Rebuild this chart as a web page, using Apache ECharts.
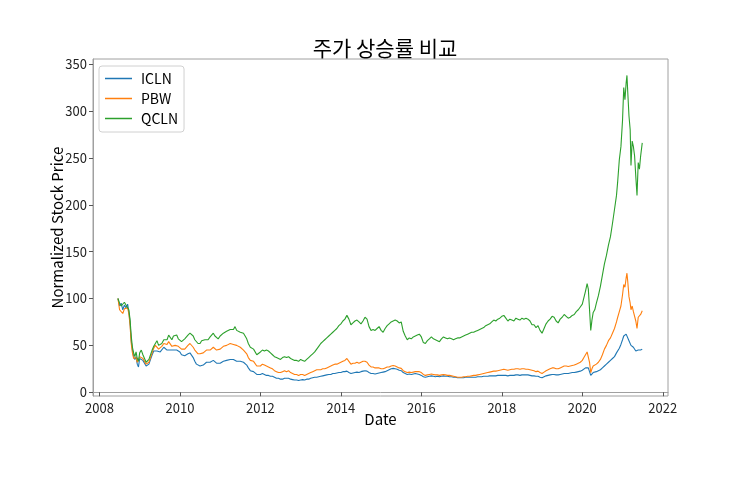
<!DOCTYPE html>
<html>
<head>
<meta charset="utf-8">
<script src="https://cdn.jsdelivr.net/npm/echarts@6/dist/echarts.min.js"></script>
<style>
  html, body { margin: 0; padding: 0; background: #fff; }
  #main { width: 743px; height: 495px; }
</style>
</head>
<body>
<div id="main"></div>
<script>
// 날짜 (소수 연도) 와 정규화 주가 (시작 = 100)
var dates = [
  2008.46, 2008.50, 2008.54, 2008.58, 2008.62, 2008.66, 2008.70, 2008.73, 2008.76, 2008.79,
  2008.82, 2008.85, 2008.88, 2008.91, 2008.94, 2008.97, 2009.00, 2009.04, 2009.08, 2009.12,
  2009.16, 2009.19, 2009.23, 2009.27, 2009.31, 2009.35, 2009.39, 2009.43, 2009.47, 2009.51,
  2009.55, 2009.60, 2009.64, 2009.68, 2009.72, 2009.76, 2009.80, 2009.84, 2009.88, 2009.92,
  2009.96, 2010.00, 2010.04, 2010.08, 2010.12, 2010.16, 2010.20, 2010.25, 2010.29, 2010.33,
  2010.37, 2010.41, 2010.45, 2010.50, 2010.54, 2010.58, 2010.62, 2010.66, 2010.70, 2010.75,
  2010.79, 2010.83, 2010.87, 2010.91, 2010.95, 2011.00, 2011.04, 2011.08, 2011.12, 2011.16,
  2011.20, 2011.25, 2011.29, 2011.33, 2011.37, 2011.41, 2011.45, 2011.50, 2011.54, 2011.58,
  2011.62, 2011.66, 2011.70, 2011.75, 2011.79, 2011.83, 2011.87, 2011.91, 2011.95, 2012.00,
  2012.05, 2012.10, 2012.15, 2012.20, 2012.25, 2012.30, 2012.35, 2012.40, 2012.45, 2012.50,
  2012.55, 2012.60, 2012.65, 2012.70, 2012.75, 2012.80, 2012.85, 2012.90, 2012.95, 2013.00,
  2013.05, 2013.10, 2013.15, 2013.20, 2013.25, 2013.30, 2013.35, 2013.40, 2013.45, 2013.50,
  2013.55, 2013.60, 2013.65, 2013.70, 2013.75, 2013.80, 2013.85, 2013.90, 2013.95, 2014.00,
  2014.05, 2014.10, 2014.15, 2014.20, 2014.25, 2014.30, 2014.35, 2014.40, 2014.45, 2014.50,
  2014.55, 2014.60, 2014.65, 2014.70, 2014.75, 2014.80, 2014.85, 2014.90, 2014.95, 2015.00,
  2015.05, 2015.10, 2015.15, 2015.20, 2015.25, 2015.30, 2015.35, 2015.40, 2015.45, 2015.50,
  2015.55, 2015.60, 2015.65, 2015.70, 2015.75, 2015.80, 2015.85, 2015.90, 2015.95, 2016.00,
  2016.05, 2016.10, 2016.15, 2016.20, 2016.25, 2016.30, 2016.35, 2016.40, 2016.45, 2016.50,
  2016.55, 2016.60, 2016.65, 2016.70, 2016.75, 2016.80, 2016.85, 2016.90, 2016.95, 2017.00,
  2017.05, 2017.10, 2017.15, 2017.20, 2017.25, 2017.30, 2017.35, 2017.40, 2017.45, 2017.50,
  2017.55, 2017.60, 2017.65, 2017.70, 2017.75, 2017.80, 2017.85, 2017.90, 2017.95, 2018.00,
  2018.05, 2018.10, 2018.15, 2018.20, 2018.25, 2018.30, 2018.35, 2018.40, 2018.45, 2018.50,
  2018.55, 2018.60, 2018.65, 2018.70, 2018.75, 2018.80, 2018.85, 2018.90, 2018.95, 2019.00,
  2019.05, 2019.10, 2019.15, 2019.20, 2019.25, 2019.30, 2019.35, 2019.40, 2019.45, 2019.50,
  2019.55, 2019.60, 2019.65, 2019.70, 2019.75, 2019.80, 2019.85, 2019.90, 2019.95, 2020.00,
  2020.04, 2020.08, 2020.12, 2020.15, 2020.18, 2020.21, 2020.24, 2020.27, 2020.31, 2020.35,
  2020.40, 2020.45, 2020.50, 2020.55, 2020.60, 2020.65, 2020.70, 2020.75, 2020.80, 2020.85,
  2020.88, 2020.92, 2020.96, 2021.00, 2021.03, 2021.06, 2021.09, 2021.11, 2021.13, 2021.16,
  2021.19, 2021.21, 2021.24, 2021.27, 2021.30, 2021.33, 2021.36, 2021.39, 2021.42, 2021.45,
  2021.49
];

var icln = [
  100, 92, 95, 88, 93, 90, 94, 86, 75, 55,
  45, 38, 35, 38, 30, 27, 36, 38, 34, 35,
  28, 26, 30, 35, 40, 44, 46, 44, 42, 43,
  45, 48, 47, 45, 47, 45, 43, 45, 44, 45,
  43, 43, 40, 38, 39, 40, 41, 42, 41, 37,
  33, 30, 29, 28, 30, 29, 31, 32, 31, 32,
  33, 34, 32, 31, 30, 31, 32, 33, 32, 34,
  33, 35, 36, 35, 34, 33, 34, 33, 31, 32,
  30, 29, 26, 23, 24, 22, 21, 19, 20, 19,
  20, 19, 18, 18, 17, 17, 16, 15, 15, 14,
  14, 15, 15, 15, 14, 13.5, 13, 13, 12.5, 13,
  13.5, 13, 14, 14, 15, 15.5, 16, 16, 16.5, 17,
  17.5, 18, 18.5, 19, 19, 20, 20, 20.5, 21, 21,
  22, 22, 22.5, 21, 20, 20.5, 21, 21.5, 21, 22,
  22.5, 23, 22.5, 21, 20, 20, 19.5, 20, 20.5, 21,
  21.5, 22, 23, 24, 25, 25.5, 25, 24.5, 23.5, 23,
  21, 20, 19, 19.5, 19, 19.5, 20, 19.5, 19, 18,
  16.5, 16, 16.5, 17, 17.5, 17, 16.5, 17, 16.5, 17,
  17.5, 17, 17, 16.5, 16.5, 16, 16, 15.5, 15.5, 15.5,
  15.5, 16, 16, 16, 16, 16, 16, 16.5, 16.5, 16.5,
  17, 17, 17, 17.5, 17.5, 17.5, 17.5, 18, 18, 18,
  18, 18, 17.5, 18, 18, 18, 18.5, 18.5, 18, 18.5,
  18.5, 18.5, 18.5, 18, 17.5, 17.5, 17, 17, 16, 15.5,
  16.5, 17.5, 18, 18.5, 19, 19, 18.5, 18.5, 19, 19.5,
  20, 20, 20, 20.5, 21, 21, 21.5, 22, 22.5, 23.5,
  25, 26, 27, 26, 22, 18, 20, 21, 22, 22,
  23, 24, 26, 28, 30, 32, 34, 36, 38, 42,
  44, 47, 51, 56, 60, 58, 62, 63, 60, 55,
  53, 50, 51, 48, 47, 44, 42, 45, 44, 45,
  46
];

var pbw = [
  100, 88, 86, 84, 89, 87, 90, 84, 72, 52,
  42, 36, 34, 37, 32, 30, 38, 40, 36, 37,
  30, 28, 32, 37, 42, 47, 50, 49, 46, 46,
  49, 52, 53, 51, 54, 52, 49, 51, 50, 52,
  49, 48, 46, 45, 46, 48, 50, 52, 51, 48,
  45, 43, 41, 41, 43, 42, 44, 45, 44, 45,
  47, 48, 46, 45, 44, 46, 47, 49, 48, 50,
  49, 52, 53, 51, 52, 50, 49, 48, 46, 45,
  43, 41, 37, 34, 35, 33, 31, 28, 29, 28,
  30, 29, 28, 27, 26, 25, 23, 22, 21, 21,
  22, 23, 22, 23, 21, 20, 19, 19, 18, 19,
  19, 18, 19, 20, 21, 22, 23, 24, 24, 24,
  25, 25, 26, 27, 28, 29, 30, 30, 31, 32,
  33, 34, 36, 33, 30, 31, 31, 32, 31, 32,
  33, 33, 32, 29, 27, 27, 26, 26, 26, 25,
  25, 26, 27, 27, 28, 28.5, 28, 27, 26, 25.5,
  23, 22, 21, 21.5, 21, 21.5, 22, 22, 22, 21,
  19, 18, 18.5, 19, 19.5, 19, 18.5, 18.5, 18, 18.5,
  19, 18.5, 18, 18, 17.5, 17, 16.5, 16, 16, 16,
  16.5, 16.5, 17, 17, 17.5, 18, 18, 18.5, 19, 19.5,
  20, 20.5, 21, 21.5, 22, 22.5, 22.5, 23, 23.5, 24,
  24.5, 24, 23.5, 24, 24.5, 24.5, 25, 25, 24.5, 25,
  25, 24.5, 24.5, 24, 23.5, 23, 22, 22.5, 21, 20,
  21.5, 23, 24, 25, 26, 26, 25, 25, 26, 27,
  28, 28, 27.5, 28, 28.5, 29, 30, 31, 32, 34,
  37, 40, 43, 41, 32, 21, 25, 28, 29, 30,
  32, 35, 40, 46, 50, 55, 58, 63, 68, 75,
  80, 86, 92, 104, 115, 112, 122, 127, 118, 102,
  95, 88, 92, 86, 84, 76, 68, 80, 78, 83,
  87
];

var qcln = [
  100, 95, 92, 90, 96, 93, 95, 88, 78, 60,
  48, 42, 38, 43, 36, 33, 42, 45, 40, 41,
  32, 30, 35, 40, 45, 49, 52, 55, 50, 48,
  52, 56, 58, 56, 61, 59, 56, 60, 59, 61,
  57, 55, 54, 55, 57, 59, 61, 63, 65, 60,
  56, 54, 52, 52, 55, 53, 56, 58, 56, 59,
  61, 63, 60, 58, 57, 60, 61, 63, 62, 65,
  63, 67, 69, 67, 70, 66, 65, 64, 62, 63,
  60, 57, 52, 48, 50, 46, 44, 40, 42, 43,
  45, 44, 45, 44, 42, 40, 38, 37, 36, 35,
  37, 38, 37, 38, 36, 35, 34, 34, 33, 35,
  34, 33, 35, 37, 39, 41, 43, 46, 49, 52,
  54, 56, 58, 60, 62, 64, 66, 68, 71, 73,
  76, 78, 82, 78, 72, 74, 76, 77, 75, 73,
  76, 80, 78, 70, 66, 67, 66, 68, 70, 66,
  64, 68, 71, 73, 75, 76, 77, 76, 74, 75,
  65, 60, 56, 58, 57, 59, 60, 61, 62, 59,
  53, 52, 55, 57, 59, 57, 56, 55, 54, 57,
  59, 58, 57, 58, 57, 56, 57, 58, 58, 59,
  60, 61, 62, 63, 64, 64, 65, 66, 67, 68,
  69, 71, 72, 73, 75, 77, 76, 78, 79, 81,
  82, 79, 76, 78, 77, 76, 79, 78, 77, 79,
  78, 79, 78, 76, 72, 72, 69, 71, 66, 63,
  68, 73, 76, 78, 81, 80, 76, 74, 78, 80,
  83, 81, 79, 80, 82, 83, 86, 88, 91, 94,
  101, 108, 116, 110, 88, 66, 77, 85, 88, 95,
  103, 113, 125, 137, 146, 157, 166, 180, 195, 210,
  225, 248, 262, 290, 325, 312, 330, 338, 320, 295,
  280, 242, 268, 262, 252, 230, 210, 245, 238, 252,
  266
];

var names = ['ICLN', 'PBW', 'QCLN'];
var colors = ['#1f77b4', '#ff7f0e', '#2ca02c'];
var xTicks = [2008, 2010, 2012, 2014, 2016, 2018, 2020, 2022];
var yTicks = [0, 50, 100, 150, 200, 250, 300, 350];

var font = '"Noto Sans CJK KR", "Noto Sans", sans-serif';

function pairs(vals) {
  return vals.map(function (v, i) { return [dates[i], v]; });
}

var myChart = echarts.init(document.getElementById('main'));

var option = {
  animation: false,
  title: {
    text: '주가 상승률 비교',
    left: 380,
    top: 33,
    textAlign: 'center',
    textStyle: { fontFamily: font, fontSize: 21, fontWeight: 'normal', color: '#000' }
  },
  legend: {
    data: names,
    orient: 'vertical',
    left: 99,
    top: 66,
    padding: [4, 6, 5, 6],
    icon: 'rect',
    itemWidth: 27,
    itemHeight: 1.5,
    itemGap: 3,
    borderColor: '#d0d0d0',
    borderWidth: 1,
    borderRadius: 3,
    textStyle: { fontFamily: font, fontSize: 14, lineHeight: 17, color: '#000', padding: [0, 0, 0, 4] }
  },
  grid: { left: 93, right: 75, top: 59, bottom: 99 },
  xAxis: {
    type: 'value',
    min: 2007.84,
    max: 2022.13,
    name: 'Date',
    nameLocation: 'middle',
    nameGap: 16,
    nameMoveOverlap: false,
    nameTextStyle: { fontFamily: font, fontSize: 15, color: '#000' },
    axisLine: { show: true, lineStyle: { color: '#a0a0a0', width: 1 } },
    axisTick: { show: true, length: 4, customValues: xTicks, lineStyle: { color: '#555' } },
    axisLabel: {
      customValues: xTicks,
      margin: 6,
      fontFamily: font, fontSize: 13, color: '#222',
      formatter: function (v) { return String(v); }
    },
    splitLine: { show: false }
  },
  yAxis: {
    type: 'value',
    min: -4,
    max: 355.5,
    name: 'Normalized Stock Price',
    nameLocation: 'middle',
    nameGap: 28,
    nameMoveOverlap: false,
    nameTextStyle: { fontFamily: font, fontSize: 15, color: '#000' },
    axisLine: { show: true, lineStyle: { color: '#a0a0a0', width: 1 } },
    axisTick: { show: true, length: 4, customValues: yTicks, lineStyle: { color: '#555' } },
    axisLabel: {
      customValues: yTicks,
      margin: 6,
      fontFamily: font, fontSize: 13, color: '#222'
    },
    splitLine: { show: false }
  },
  series: [icln, pbw, qcln].map(function (vals, i) {
    return {
      name: names[i],
      type: 'line',
      data: pairs(vals),
      symbol: 'none',
      color: colors[i],
      lineStyle: { color: colors[i], width: 1.1 }
    };
  })
};

myChart.setOption(option);

// 오른쪽, 위쪽 테두리
myChart.setOption({
  graphic: [{
    type: 'rect',
    shape: { x: 93, y: 59, width: 575, height: 337 },
    style: { fill: 'none', stroke: '#a0a0a0', lineWidth: 1 },
    silent: true,
    z: -1
  }]
});
</script>
</body>
</html>
